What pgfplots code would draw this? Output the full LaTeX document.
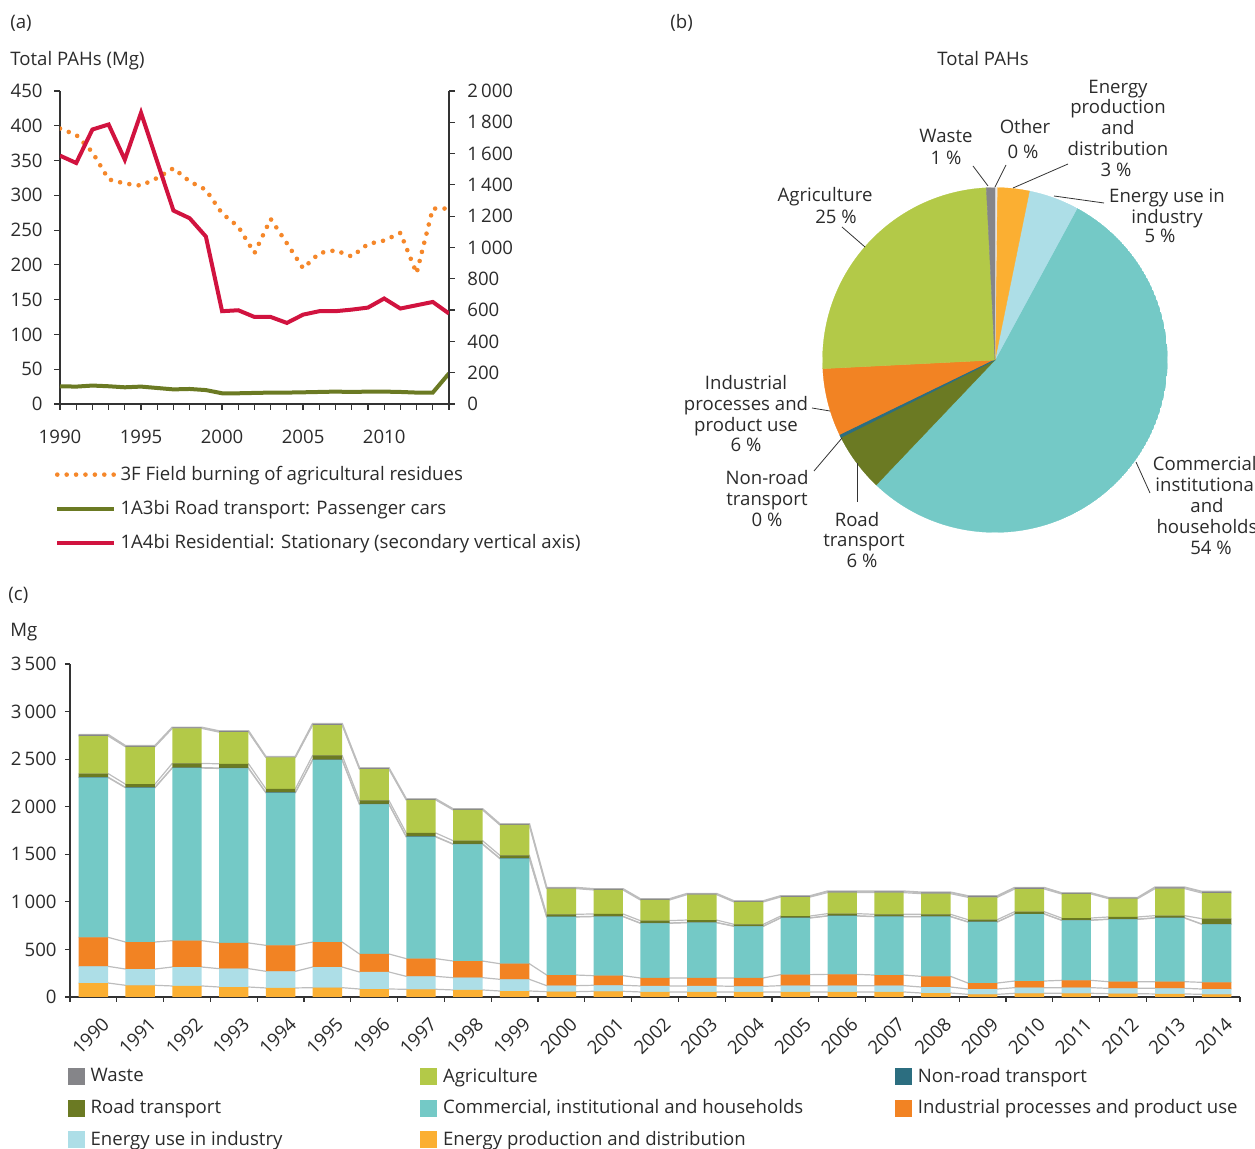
\documentclass[border=0pt]{standalone}
\usepackage{fontspec}
\setmainfont{Open Sans}
\usepackage{pgfplots}
\pgfplotsset{compat=1.18}
\usepackage{pgfplotstable}
\usepgfplotslibrary{polar}

\definecolor{txt}{HTML}{2B2B2B}
\definecolor{axc}{HTML}{333333}
\definecolor{cEP}{HTML}{FBAF32}
\definecolor{cEUI}{HTML}{ADDEE7}
\definecolor{cInd}{HTML}{F28323}
\definecolor{cCom}{HTML}{74C9C6}
\definecolor{cNR}{HTML}{2C6E80}
\definecolor{cRoad}{HTML}{6B7A23}
\definecolor{cAgr}{HTML}{B3C948}
\definecolor{cWaste}{HTML}{858589}
\definecolor{cOther}{HTML}{E8E8E8}
\definecolor{cRed}{HTML}{D1133F}
\definecolor{cDot}{HTML}{F5872A}
\definecolor{cSer}{HTML}{BDBDBD}

\pgfplotstableread{
year field road resid
1990 396 25.5 1587
1991 387 25 1540
1992 362 26.5 1754
1993 323 25.5 1786
1994 317 24 1561
1995 314 25 1861
1996 325 23 1548
1997 339 21 1236
1998 320 21.6 1187
1999 308 20 1070
2000 274 15.4 593
2001 255 15.4 599
2002 217 15.9 556
2003 266 16.4 556
2004 231 16.4 518
2005 195 16.8 571
2006 217 17.3 593
2007 221 17.8 593
2008 212 17.3 603
2009 230 17.8 616
2010 235 17.8 674
2011 246 17.3 610
2012 188 16.4 631
2013 281 16.4 652
2014 281 44 578
}\linesdata

\pgfplotstableread{
idx year EP EUI Ind Com NR Road Agr Waste
0 1990 147 175 305 1679 5 37 395 14
1 1991 123 171 284 1621 5 33 393 10
2 1992 116 199 277 1814 5 44 368 10
3 1993 105 193 270 1834 5 44 333 11
4 1994 95 175 273 1603 5 37 330 7
5 1995 98 217 263 1912 5 44 319 14
6 1996 84 179 189 1572 5 37 329 11
7 1997 81 136 186 1279 5 37 347 10
8 1998 74 129 175 1227 5 33 323 10
9 1999 63 123 164 1104 5 30 319 10
10 2000 56 63 112 610 3 25 270 10
11 2001 60 63 101 621 3 25 252 11
12 2002 53 63 84 575 3 25 217 11
13 2003 53 63 84 581 3 25 267 10
14 2004 53 59 88 543 3 18 235 10
15 2005 53 66 116 595 3 18 200 11
16 2006 53 66 119 613 3 22 221 14
17 2007 53 66 112 613 3 22 228 14
18 2008 42 63 112 627 3 22 217 14
19 2009 28 56 63 641 3 22 235 14
20 2010 39 59 70 704 3 22 238 14
21 2011 39 59 77 631 3 21 253 10
22 2012 35 56 70 655 3 22 193 10
23 2013 32 59 70 669 3 22 284 14
24 2014 28 56 70 610 3 56 270 15
}\bardata

% same values, each year listed at the left and right edge of its bar
% (for the grey series lines that join the bars edge to edge)
\pgfplotstableread{
x EP EUI Ind Com NR Road Agr Waste
-0.315 147 175 305 1679 5 37 395 14
0.315 147 175 305 1679 5 37 395 14
0.685 123 171 284 1621 5 33 393 10
1.315 123 171 284 1621 5 33 393 10
1.685 116 199 277 1814 5 44 368 10
2.315 116 199 277 1814 5 44 368 10
2.685 105 193 270 1834 5 44 333 11
3.315 105 193 270 1834 5 44 333 11
3.685 95 175 273 1603 5 37 330 7
4.315 95 175 273 1603 5 37 330 7
4.685 98 217 263 1912 5 44 319 14
5.315 98 217 263 1912 5 44 319 14
5.685 84 179 189 1572 5 37 329 11
6.315 84 179 189 1572 5 37 329 11
6.685 81 136 186 1279 5 37 347 10
7.315 81 136 186 1279 5 37 347 10
7.685 74 129 175 1227 5 33 323 10
8.315 74 129 175 1227 5 33 323 10
8.685 63 123 164 1104 5 30 319 10
9.315 63 123 164 1104 5 30 319 10
9.685 56 63 112 610 3 25 270 10
10.315 56 63 112 610 3 25 270 10
10.685 60 63 101 621 3 25 252 11
11.315 60 63 101 621 3 25 252 11
11.685 53 63 84 575 3 25 217 11
12.315 53 63 84 575 3 25 217 11
12.685 53 63 84 581 3 25 267 10
13.315 53 63 84 581 3 25 267 10
13.685 53 59 88 543 3 18 235 10
14.315 53 59 88 543 3 18 235 10
14.685 53 66 116 595 3 18 200 11
15.315 53 66 116 595 3 18 200 11
15.685 53 66 119 613 3 22 221 14
16.315 53 66 119 613 3 22 221 14
16.685 53 66 112 613 3 22 228 14
17.315 53 66 112 613 3 22 228 14
17.685 42 63 112 627 3 22 217 14
18.315 42 63 112 627 3 22 217 14
18.685 28 56 63 641 3 22 235 14
19.315 28 56 63 641 3 22 235 14
19.685 39 59 70 704 3 22 238 14
20.315 39 59 70 704 3 22 238 14
20.685 39 59 77 631 3 21 253 10
21.315 39 59 77 631 3 21 253 10
21.685 35 56 70 655 3 22 193 10
22.315 35 56 70 655 3 22 193 10
22.685 32 59 70 669 3 22 284 14
23.315 32 59 70 669 3 22 284 14
23.685 28 56 70 610 3 56 270 15
24.315 28 56 70 610 3 56 270 15
}\serdata

\pgfplotsset{
  myfont/.style={font=\fontsize{9.3}{11}\selectfont},
}

\begin{document}
\color{txt}
\begin{tikzpicture}[font=\fontsize{9.3}{11}\selectfont]
\useasboundingbox (0pt,0pt) rectangle (627.5pt,-574.5pt);

% ---------------- panel (a): primary axis
\begin{axis}[
  at={(30pt,-202pt)}, anchor=south west,
  scale only axis, width=194.5pt, height=156.5pt,
  xmin=1990, xmax=2014, ymin=0, ymax=450,
  axis x line*=bottom, axis y line*=left,
  axis line style={axc, line width=0.6pt, -},
  xtick={1990,1995,2000,2005,2010}, minor xtick={1990,...,2014},
  ytick={0,50,...,450},
  tick align=outside, major tick length=3pt, minor tick length=3pt,
  every tick/.style={axc, line width=0.6pt},
  /pgf/number format/assume math mode=true,
  /pgf/number format/1000 sep={},
  tick label style={myfont, inner sep=0pt},
  yticklabel style={xshift=-5.5pt},
  xticklabel style={yshift=-10pt},
]
\addplot[cDot, line width=2.3pt, line cap=round, dash pattern=on 0pt off 4.7pt] table[x=year,y=field]{\linesdata};
\addplot[cRoad, line width=2pt] table[x=year,y=road]{\linesdata};
\end{axis}

% ---------------- panel (a): secondary axis
\begin{axis}[
  at={(30pt,-202pt)}, anchor=south west,
  scale only axis, width=194.5pt, height=156.5pt,
  xmin=1990, xmax=2014, ymin=0, ymax=2000,
  axis x line=none, axis y line*=right,
  axis line style={axc, line width=0.6pt, -},
  ytick={0,200,...,2000},
  tick align=outside, major tick length=3pt,
  every tick/.style={axc, line width=0.6pt},
  /pgf/number format/assume math mode=true,
  /pgf/number format/1000 sep={\,},
  tick label style={myfont, inner sep=0pt},
  yticklabel style={xshift=6pt},
  legend style={at={(-0.0129,-0.1853)}, anchor=north west, draw=none, fill=none,
    inner sep=0pt, outer sep=0pt, row sep=4.45pt, column sep=0pt, myfont},
  legend cell align=left,
  legend image code/.code={\draw[#1] (0pt,0pt) -- (28.5pt,0pt);},
]
\addlegendimage{cDot, line width=2.3pt, line cap=round, dash pattern=on 0pt off 4.7pt}
\addlegendentry{3F Field burning of agricultural residues}
\addlegendimage{cRoad, line width=2pt}
\addlegendentry{1A3bi Road transport: Passenger cars}
\addplot[cRed, line width=2pt] table[x=year,y=resid]{\linesdata};
\addlegendentry{1A4bi Residential: Stationary (secondary vertical axis)}
\end{axis}

% ---------------- panel (b): pie (shares in %, clockwise from top):
% Other 0.2, Energy prod. 3.0, Energy use ind. 4.7, Commercial 54.2, Road 5.5,
% Non-road 0.2, Industrial 6.4, Agriculture 25.0, Waste 0.8
\begin{polaraxis}[
  at={(497.5pt,-180pt)}, anchor=center,
  scale only axis, width=172.5pt, height=172.5pt,
  ymin=0, ymax=1, hide axis,
]
\addplot[fill=cCom, draw=cCom, line width=0.2pt, domain=-133.56:61.56, samples=120] {1} -- (axis cs:0,0) -- cycle;
\addplot[fill=cEUI, draw=cEUI, line width=0.2pt, domain=61.56:78.48, samples=20] {1} -- (axis cs:0,0) -- cycle;
\addplot[fill=cEP, draw=cEP, line width=0.2pt, domain=78.48:89.28, samples=15] {1} -- (axis cs:0,0) -- cycle;
\addplot[fill=cOther, draw=cOther, line width=0.2pt, domain=89.28:90, samples=3] {1} -- (axis cs:0,0) -- cycle;
\addplot[fill=cRoad, draw=cRoad, line width=0.2pt, domain=-153.36:-133.56, samples=20] {1} -- (axis cs:0,0) -- cycle;
\addplot[fill=cInd, draw=cInd, line width=0.2pt, domain=-177.12:-154.08, samples=20] {1} -- (axis cs:0,0) -- cycle;
\addplot[fill=cNR, draw=cNR, line width=0.5pt, domain=-154.08:-153.36, samples=3] {1} -- (axis cs:0,0) -- cycle;
\addplot[fill=cAgr, draw=cAgr, line width=0.2pt, domain=-267.12:-177.12, samples=60] {1} -- (axis cs:0,0) -- cycle;
\addplot[fill=cWaste, draw=cWaste, line width=0.2pt, domain=-270:-267.12, samples=4] {1} -- (axis cs:0,0) -- cycle;
\end{polaraxis}

% ---------------- panel (c): series lines (behind bars)
\begin{axis}[
  at={(35pt,-498.5pt)}, anchor=south west,
  scale only axis, width=585pt, height=166.5pt,
  xmin=-0.5, xmax=24.5, ymin=0, ymax=3500,
  hide axis, stack plots=y,
]
\addplot[cSer, line width=0.6pt] table[x=x,y=EP]{\serdata};
\addplot[cSer, line width=0.6pt] table[x=x,y=EUI]{\serdata};
\addplot[cSer, line width=0.6pt] table[x=x,y=Ind]{\serdata};
\addplot[cSer, line width=0.6pt] table[x=x,y=Com]{\serdata};
\addplot[cSer, line width=0.6pt] table[x=x,y=NR]{\serdata};
\addplot[cSer, line width=0.6pt] table[x=x,y=Road]{\serdata};
\addplot[cSer, line width=0.6pt] table[x=x,y=Agr]{\serdata};
\addplot[cSer, line width=0.9pt] table[x=x,y=Waste]{\serdata};
\end{axis}

% ---------------- panel (c): stacked bars
\begin{axis}[
  at={(35pt,-498.5pt)}, anchor=south west,
  scale only axis, width=585pt, height=166.5pt,
  xmin=-0.5, xmax=24.5, ymin=0, ymax=3500,
  ybar stacked, bar width=14.7pt,
  axis x line*=bottom, axis y line*=left,
  axis line style={axc, line width=0.6pt, -},
  xtick={0,...,24}, xticklabels from table={\bardata}{year},
  minor xtick={-0.5,0.5,...,24.5},
  major x tick style={draw=none},
  ytick={0,500,...,3500},
  tick align=outside, major tick length=2.5pt, minor tick length=2.5pt,
  every tick/.style={axc, line width=0.6pt},
  /pgf/number format/assume math mode=true,
  /pgf/number format/1000 sep={\,},
  tick label style={myfont, inner sep=0pt},
  yticklabel style={xshift=-4pt},
  xticklabel style={rotate=45, anchor=east, xshift=-2.15pt, yshift=-11pt},
  legend style={at={(-0.0017,-0.2012)}, anchor=north west, draw=none, fill=none,
    inner sep=0pt, outer sep=0pt, row sep=3.2pt, column sep=0.9pt, myfont},
  legend columns=3,
  legend cell align=left,
  legend image code/.code={\fill[#1] (0pt,-4pt) rectangle (8pt,4pt);},
]
\addplot[fill=cEP, draw=none, forget plot] table[x=idx,y=EP]{\bardata};
\addplot[fill=cEUI, draw=none, forget plot] table[x=idx,y=EUI]{\bardata};
\addplot[fill=cInd, draw=none, forget plot] table[x=idx,y=Ind]{\bardata};
\addplot[fill=cCom, draw=none, forget plot] table[x=idx,y=Com]{\bardata};
\addplot[fill=cNR, draw=none, forget plot] table[x=idx,y=NR]{\bardata};
\addplot[fill=cRoad, draw=none, forget plot] table[x=idx,y=Road]{\bardata};
\addplot[fill=cAgr, draw=none, forget plot] table[x=idx,y=Agr]{\bardata};
\addplot[fill=cWaste, draw=none, forget plot] table[x=idx,y=Waste]{\bardata};
\addlegendimage{cWaste}\addlegendentry{\makebox[162pt][l]{Waste}}
\addlegendimage{cAgr}\addlegendentry{\makebox[223.25pt][l]{Agriculture}}
\addlegendimage{cNR}\addlegendentry{Non-road transport}
\addlegendimage{cRoad}\addlegendentry{\makebox[162pt][l]{Road transport}}
\addlegendimage{cCom}\addlegendentry{\makebox[223.25pt][l]{Commercial, institutional and households}}
\addlegendimage{cInd}\addlegendentry{Industrial processes and product use}
\addlegendimage{cEUI}\addlegendentry{\makebox[162pt][l]{Energy use in industry}}
\addlegendimage{cEP}\addlegendentry{\makebox[223.25pt][l]{Energy production and distribution}}
\end{axis}

% ---------------- titles and pie labels (pixel coordinates)
\begin{scope}[x=0.5pt, y=-0.5pt, every node/.style={inner sep=0pt, text=txt}]
\node[anchor=base west] at (10,29) {(a)};
\node[anchor=base west] at (10,66) {Total PAHs (Mg)};
\node[anchor=base west] at (670,29) {(b)};
\node[anchor=base] at (983,66) {Total PAHs};
\node[anchor=base west] at (8,601) {(c)};
\node[anchor=base west] at (10,637) {Mg};

\draw[axc, line width=0.4pt] (973,166) -- (988,186);
\draw[axc, line width=0.4pt] (1006,165) -- (995,187);
\draw[axc, line width=0.4pt] (1068,164) -- (1013,188);
\draw[axc, line width=0.4pt] (1104,203) -- (1054,196);
\draw[axc, line width=0.4pt] (842,227) -- (865,247);
\draw[axc, line width=0.4pt] (812,408) -- (830,411);
\draw[axc, line width=0.4pt] (814,471) -- (842,438);
\draw[axc, line width=0.4pt] (857,502) -- (857,463);
\draw[axc, line width=0.4pt] (1150,493) -- (1136,462);

\node[anchor=base] at (946,143) {Waste};
\node[anchor=base] at (946,165) {1 \%};
\node[anchor=base] at (1025,134) {Other};
\node[anchor=base] at (1023,159) {0 \%};
\node[anchor=base] at (1118,94) {Energy};
\node[anchor=base] at (1118,114) {production};
\node[anchor=base] at (1118,135) {and};
\node[anchor=base] at (1118,156) {distribution};
\node[anchor=base] at (1116,177) {3 \%};
\node[anchor=base] at (1167,203) {Energy use in};
\node[anchor=base] at (1167,224) {industry};
\node[anchor=base] at (1160,243) {5 \%};
\node[anchor=base] at (825,202) {Agriculture};
\node[anchor=base] at (836,224) {25 \%};
\node[anchor=base] at (746,390) {Industrial};
\node[anchor=base] at (746,411) {processes and};
\node[anchor=base] at (746,432) {product use};
\node[anchor=base] at (746,452) {6 \%};
\node[anchor=base] at (767,485) {Non-road};
\node[anchor=base] at (767,506) {transport};
\node[anchor=base] at (767,527) {0 \%};
\node[anchor=base] at (857,527) {Road};
\node[anchor=base] at (864,547) {transport};
\node[anchor=base] at (862,568) {6 \%};
\node[anchor=base] at (1207,471) {Commercial,};
\node[anchor=base] at (1207,492) {institutional};
\node[anchor=base] at (1207,513) {and};
\node[anchor=base] at (1207,534) {households};
\node[anchor=base] at (1211,555) {54 \%};
\end{scope}
\end{tikzpicture}
\end{document}
